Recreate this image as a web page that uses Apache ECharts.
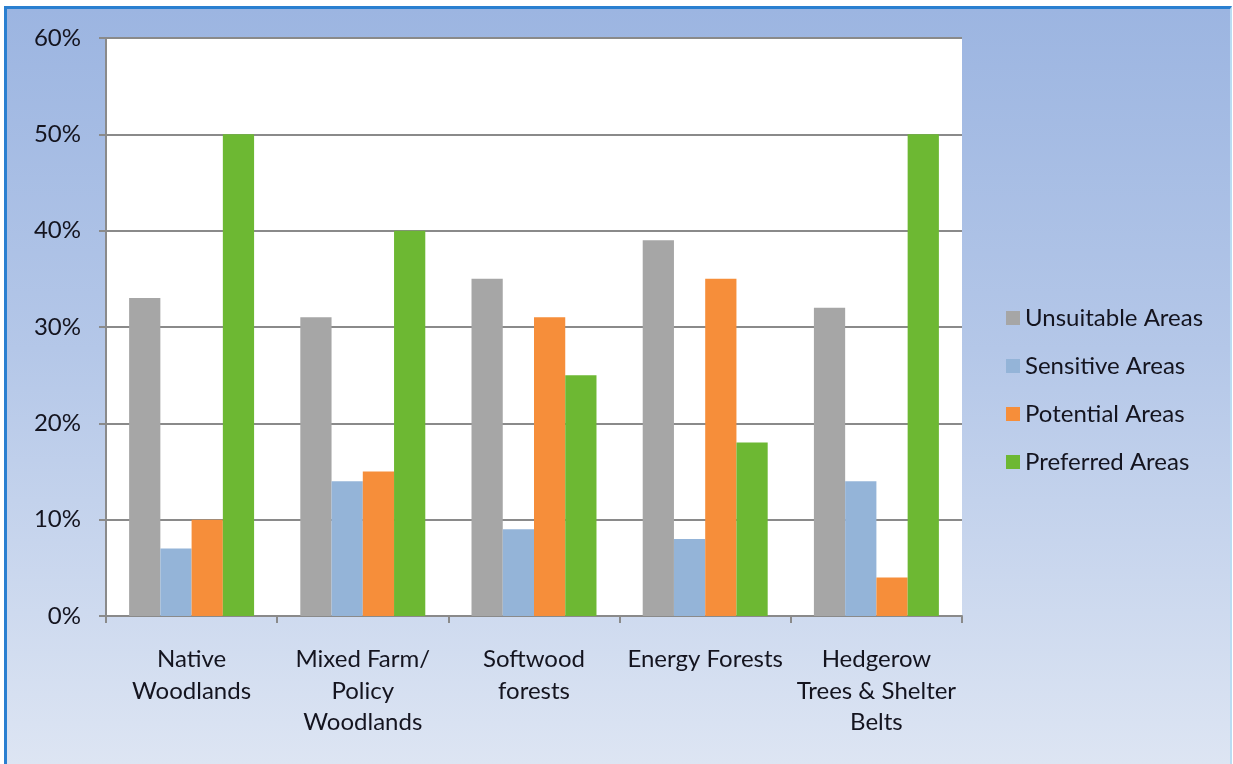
<!DOCTYPE html>
<html><head><meta charset="utf-8">
<script src="https://cdn.jsdelivr.net/npm/echarts@6/dist/echarts.min.js"></script>
<style>
html,body{margin:0;padding:0;width:1233px;height:764px;overflow:hidden;background:#fff;}
#frame{position:absolute;left:4px;top:6px;width:1223px;height:755px;
 border-left:3px solid #2a7fd0;border-top:3px solid #2a7fd0;border-right:2px solid #b9dcf2;border-bottom:2px solid #b9dcf2;
 background:linear-gradient(to bottom,#9cb5e1 0%,#b4c7e8 45%,#dde5f3 100%);}
#chart{position:absolute;left:0;top:0;width:1233px;height:764px;}
</style></head>
<body>
<div id="frame"></div>
<div id="chart"></div>
<script>
const categories = ['Native\nWoodlands','Mixed Farm/\nPolicy\nWoodlands','Softwood\nforests','Energy Forests','Hedgerow\nTrees & Shelter\nBelts'];
const unsuitable = [33,31,35,39,32];
const sensitive = [7,14,9,8,14];
const potential = [10,15,31,35,4];
const preferred = [50,40,25,18,50];
const seriesNames = ['Unsuitable Areas','Sensitive Areas','Potential Areas','Preferred Areas'];
const colors = ['#a6a6a6','#94b4d8','#f68e3a','#6db833'];

const chart = echarts.init(document.getElementById('chart'));
const font = 'Lato, "Open Sans", sans-serif';
const txt = '#14141f';
function mk(name, data, i){
  return {name:name,type:'bar',data:data,barGap:'0%',barCategoryGap:'27%',
    itemStyle:{color:colors[i]},z:3};
}
chart.setOption({
  animation:false,
  backgroundColor:'transparent',
  textStyle:{fontFamily:font},
  grid:{left:106,right:271,top:38,bottom:148,show:true,backgroundColor:'#ffffff',borderWidth:0},
  legend:{
    orient:'vertical',left:1001,top:301,itemWidth:14,itemHeight:14,itemGap:24,
    icon:'rect',
    textStyle:{fontFamily:font,fontSize:24,color:txt,lineHeight:24,padding:[0,0,0,0]},
    data:seriesNames
  },
  xAxis:{
    type:'category',data:categories,
    axisLine:{lineStyle:{color:'#8a8a8a',width:2}},
    axisTick:{show:true,length:7,lineStyle:{color:'#8a8a8a',width:2}},
    axisLabel:{fontFamily:font,fontSize:24,color:txt,lineHeight:31.5,margin:28,interval:0}
  },
  yAxis:{
    type:'value',min:0,max:60,interval:10,
    axisLine:{show:true,lineStyle:{color:'#8a8a8a',width:2}},
    axisTick:{show:true,length:7,lineStyle:{color:'#8a8a8a',width:2}},
    splitLine:{lineStyle:{color:'#8a8a8a',width:2}},
    axisLabel:{fontFamily:font,fontSize:24,color:txt,margin:25,formatter:'{value}%'}
  },
  series:[mk(seriesNames[0],unsuitable,0),mk(seriesNames[1],sensitive,1),mk(seriesNames[2],potential,2),mk(seriesNames[3],preferred,3)]
});
</script>
</body></html>
